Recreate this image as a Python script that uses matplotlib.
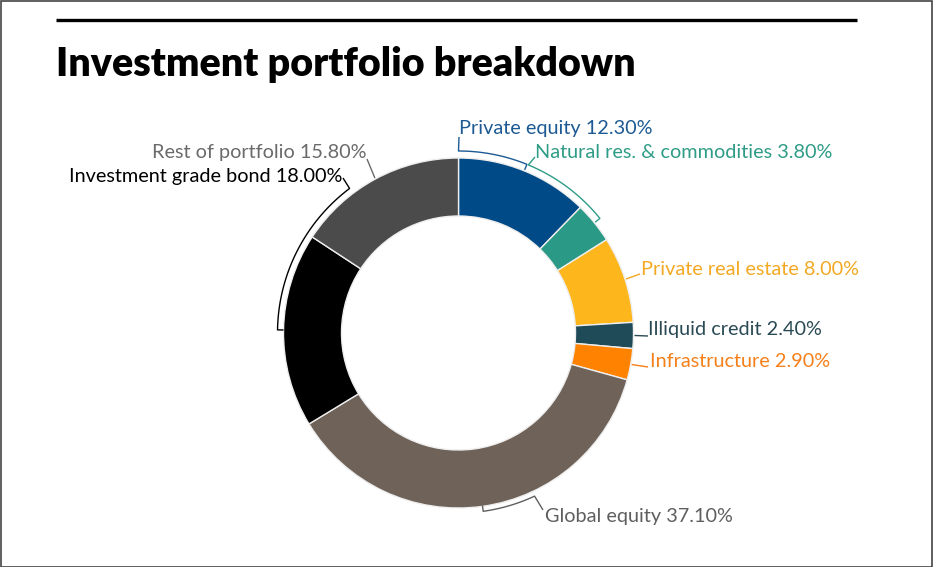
import numpy as np
import matplotlib.pyplot as plt

# portfolio data
categories = ["Private equity", "Natural res. & commodities", "Private real estate",
              "Illiquid credit", "Infrastructure", "Global equity",
              "Investment grade bond", "Rest of portfolio"]
shares = [12.3, 3.8, 8.0, 2.4, 2.9, 37.1, 18.0, 15.8]
wedge_colors = ["#004b87", "#2a9a86", "#fdb71d", "#1f4b58", "#ff8300",
                "#6e6259", "#000000", "#4b4b4b"]
text_colors = ["#1d5a94", "#2e9c86", "#f3a923", "#2a4a55", "#f5801a",
               "#5f5f5f", "#000000", "#6a6a6a"]

W, H = 933, 567
CX, CY = 458.5, 333.0     # donut centre in pixel coords (y down)
R_OUT, R_IN = 175.0, 117.0
FONT = ["Lato", "DejaVu Sans"]


def px(x, y):
    return x, H - y


def polar(ang, r):
    a = np.deg2rad(ang)
    return CX + r * np.cos(a), CY - r * np.sin(a)


fig = plt.figure(figsize=(9.33, 5.67), dpi=100)
ax = fig.add_axes([0, 0, 1, 1])

ax.pie(shares, colors=wedge_colors, startangle=90, counterclock=False,
       radius=R_OUT, center=px(CX, CY),
       wedgeprops=dict(width=R_OUT - R_IN, edgecolor="#eeeeee", linewidth=1.0))
ax.set_xlim(0, W)
ax.set_ylim(0, H)
ax.set_aspect("equal")
ax.axis("off")

# angles of each slice (clockwise from top), kept in (-180, 180]
total = sum(shares)
cum = np.concatenate([[0], np.cumsum(shares)]) / total * 360
start = 90 - cum[:-1]
end = 90 - cum[1:]
mid = (start + end) / 2
mid = (mid + 180) % 360 - 180

# label placement: (x, y baseline, ha)
label_pos = [(459, 134, "left"), (535, 158, "left"), (641, 275, "left"),
             (648, 335, "left"), (650, 367, "left"), (545, 522, "left"),
             (342, 182, "right"), (367, 158, "right")]

for i, cat in enumerate(categories):
    x, y, ha = label_pos[i]
    ax.text(*px(x, y), f"{cat} {shares[i]:.2f}%", ha=ha, va="baseline",
            fontsize=14.3, color=text_colors[i], family=FONT)


def draw(pts, color):
    pts = [px(*p) for p in pts]
    xs, ys = zip(*pts)
    ax.plot(xs, ys, color=color, lw=1.0, solid_capstyle="butt")


def bracket(a0, a1, r, lead, color):
    arc = [polar(a, r) for a in np.linspace(a0, a1, 40)]
    draw([lead] + arc + [polar(a1, r - 6)], color)


# bracket style connectors
bracket(90, mid[0], 182, (459, 137), text_colors[0])
bracket(mid[0] - 0.5, mid[1], 182, (535, 157), text_colors[1])
bracket(-65, mid[5], 180, (543, 510), text_colors[5])
bracket(127, mid[6] % 360, 181, (343, 178), text_colors[6])

# simple leader lines
draw([(367, 159), polar(mid[7], 176)], text_colors[7])
draw([polar(mid[2], 176), (640, 274)], text_colors[2])
draw([polar(mid[3], 176), (648, 336)], text_colors[3])
draw([polar(mid[4], 176), (648, 367)], text_colors[4])

# title and rule
ax.plot([56, 857], [H - 20, H - 20], color="black", lw=2.4, solid_capstyle="butt")
ax.text(*px(56, 76), "Investment portfolio breakdown", ha="left", va="baseline",
        fontsize=28.4, fontweight="heavy", color="black", family=FONT)

# outer frame
ax.add_patch(plt.Rectangle((0.5, 0.5), W - 1.5, H - 1.5, fill=False,
                           edgecolor="#444444", lw=1.2))

fig.savefig("out.png", dpi=100)
